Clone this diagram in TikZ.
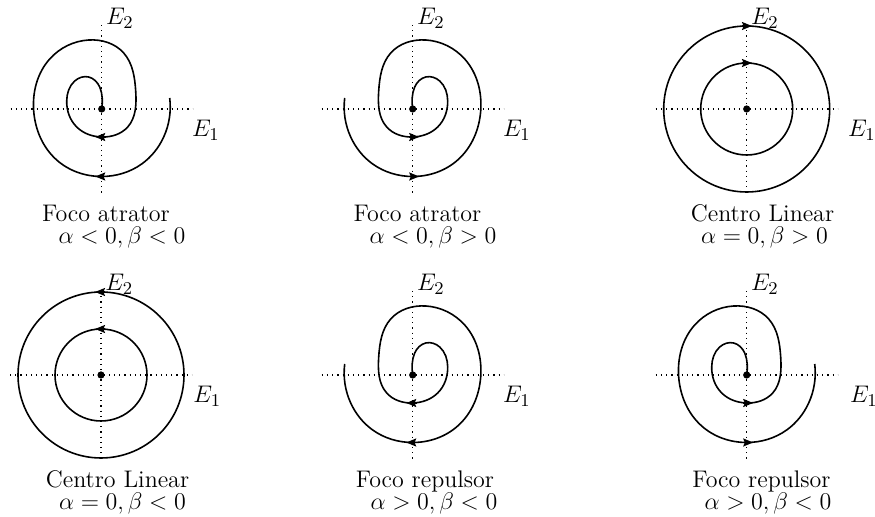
\documentclass[tikz,border=0pt]{standalone}
\usepackage{amsmath, amssymb}
\usepackage{tikz}
\usetikzlibrary{arrows.meta, hobby}

\begin{document}
\begin{tikzpicture}[x=0.5pt, y=-0.5pt,
  eixo/.style={dotted, line width=0.6pt},
  traj/.style={line width=0.8pt},
  seta/.style={-{Stealth[length=5pt,width=4pt,inset=0.8pt]}},
  rotulo/.style={inner sep=0pt, font=\large},
  eixonome/.style={inner sep=0pt, font=\fontsize{13}{15}\selectfont}]
  \useasboundingbox (0,0) rectangle (875,517);
  % eixos, rotulos e legendas
  \foreach \cx/\cy/\ea/\ca/\cb/\ta/\tb [count=\i] in {
    101.7/109/90/106/122/Foco atrator/{$\alpha<0,\beta<0$},
    412.7/109/90/417.5/433/Foco atrator/{$\alpha<0,\beta>0$},
    746.7/109/101/762.5/764.5/Centro Linear/{$\alpha=0,\beta>0$},
    101/375/92/117.5/122.5/Centro Linear/{$\alpha=0,\beta<0$},
    412.7/375/90/425/434/Foco repulsor/{$\alpha>0,\beta<0$},
    746.7/375/103/761.5/768/Foco repulsor/{$\alpha>0,\beta<0$}} {
    \draw[eixo] (\cx-91, \cy) -- (\cx+91, \cy);
    \draw[eixo] (\cx, \cy-84) -- (\cx, \cy+85);
    \fill (\cx, \cy) circle (3.6);
    \node[eixonome, anchor=base west] (E2-\i) at (\cx+4, \cy-84) {$E_2$};
    \node[eixonome, anchor=base west] (E1-\i) at (\cx+\ea, \cy+27.5) {$E_1$};
    \node[rotulo, anchor=base] (nome-\i) at (\ca, \cy+113) {\ta};
    \node[rotulo, anchor=base] (cond-\i) at (\cb, \cy+135) {\tb};
  }
  % espirais (focos)
  \foreach \cx/\cy/\m/\d in {101.7/109/1/1, 412.7/109/-1/1,
                             412.7/375/-1/-1, 746.7/375/1/-1} {
    \begin{scope}[shift={(\cx,\cy)}, xscale=\m]
      \draw[traj, use Hobby shortcut] (68,-11) .. (62,28) .. (40,55)
        .. (0,67.5) .. (-45,51) .. (-68,2) .. (-52,-50) .. (-13,-69)
        .. (22,-56) .. (34,-18) .. (26,18) .. (0,28) .. (-25,18)
        .. (-35,-8) .. (-27,-28) .. (-13,-32) .. (-2,-22) .. (0.5,-11)
        .. (0,0);
      \draw[traj, seta] (4*\d, 67.5) -- (-6.5*\d, 67.5);
      \draw[traj, seta] (4*\d, 28) -- (-6.5*\d, 28);
    \end{scope}
  }
  % centros
  \draw[traj] (746.7,109) circle (83) (746.7,109) circle (46);
  \draw[traj, seta] (742,26) -- (752,26);
  \draw[traj, seta] (742,63) -- (752,63);
  \draw[traj] (101,375) circle (83) (101,375) circle (46);
  \draw[traj, seta] (105,292) -- (95,292);
  \draw[traj, seta] (105,329) -- (95,329);
\end{tikzpicture}
\end{document}
